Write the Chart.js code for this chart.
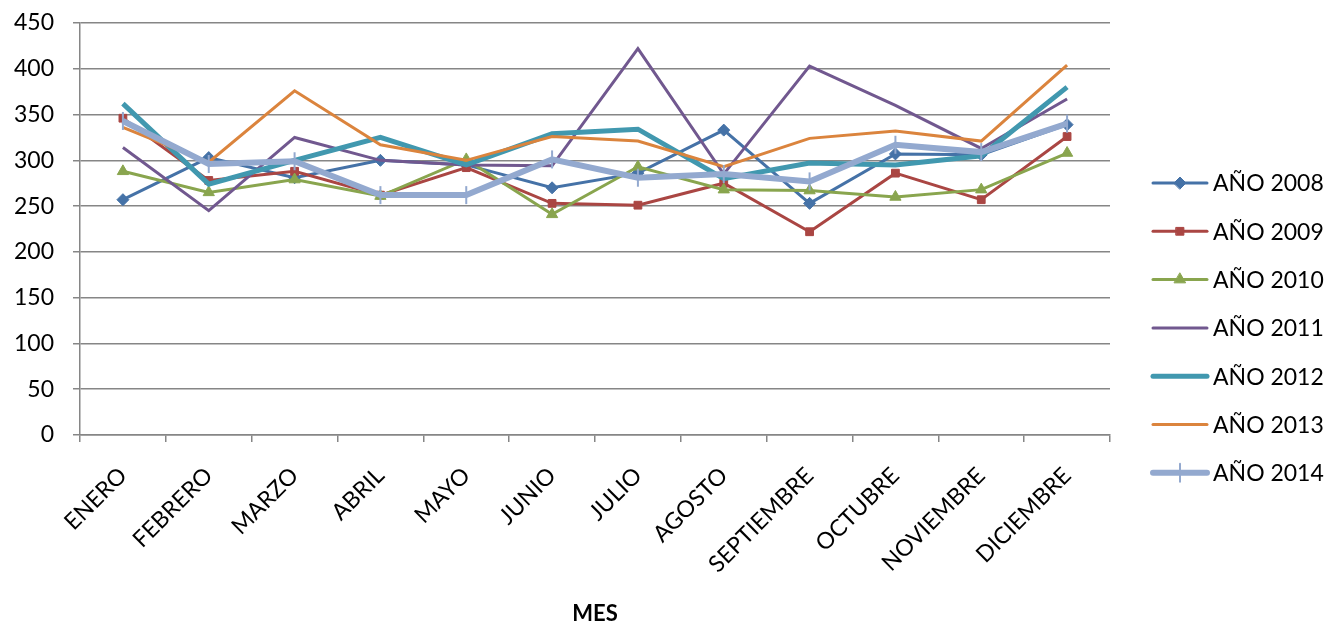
<!DOCTYPE html>
<html>
<head>
<meta charset="utf-8">
<script src="https://cdn.jsdelivr.net/npm/chart.js@4"></script>
<style>
  html, body { margin: 0; padding: 0; background: #fff; }
  #wrap { width: 1326px; height: 628px; }
</style>
</head>
<body>
<div id="wrap"><canvas id="mesChart"></canvas></div>
<script>
const meses = ['ENERO', 'FEBRERO', 'MARZO', 'ABRIL', 'MAYO', 'JUNIO', 'JULIO',
               'AGOSTO', 'SEPTIEMBRE', 'OCTUBRE', 'NOVIEMBRE', 'DICIEMBRE'];

const anio2008 = [257, 303, 281, 300, 295, 270, 286, 333, 253, 307, 306, 339];
const anio2009 = [346, 278, 288, 262, 292, 253, 251, 275, 222, 286, 257, 326];
const anio2010 = [288, 265, 279, 261, 301, 241, 293, 268, 267, 260, 268, 308];
const anio2011 = [314, 245, 325, 300, 295, 294, 422, 285, 403, 360, 313, 367];
const anio2012 = [362, 274, 300, 325, 295, 329, 334, 280, 297, 295, 305, 380];
const anio2013 = [336, 298, 376, 317, 300, 326, 321, 293, 324, 332, 321, 404];
const anio2014 = [343, 296, 299, 262, 262, 301, 281, 285, 277, 317, 309, 340];

const yTicks = [0, 50, 100, 150, 200, 250, 300, 350, 400, 450];

const FONT = 'Lato';

function serie(label, data, color, width, style, radius, order) {
    return {
        label: label,
        data: data,
        borderColor: color,
        backgroundColor: color,
        borderWidth: width,
        pointStyle: style || false,
        pointRadius: style ? radius : 0,
        pointHoverRadius: style ? radius : 0,
        pointBorderWidth: style === 'line' ? 2 : 1,
        pointRotation: style === 'line' ? 90 : 0,
        tension: 0,
        order: order
    };
}

// legend drawn by hand so the sample shows line + marker like the original
const legendaLateral = {
    id: 'legendaLateral',
    afterDraw(chart) {
        const ctx = chart.ctx;
        const x0 = 1153, x1 = 1207, y0 = 183, paso = 48.3;
        chart.data.datasets.forEach((ds, i) => {
            const y = y0 + i * paso;
            ctx.save();
            ctx.strokeStyle = ds.borderColor;
            ctx.fillStyle = ds.borderColor;
            ctx.lineWidth = ds.borderWidth;
            ctx.lineCap = 'round';
            ctx.beginPath();
            ctx.moveTo(x0, y);
            ctx.lineTo(x1, y);
            ctx.stroke();
            if (ds.pointStyle) {
                ctx.lineWidth = ds.pointBorderWidth;
                Chart.helpers.drawPoint(ctx, {
                    pointStyle: ds.pointStyle,
                    radius: ds.pointRadius,
                    rotation: ds.pointRotation,
                    borderWidth: ds.pointBorderWidth
                }, (x0 + x1) / 2, y);
            }
            ctx.fillStyle = '#000';
            ctx.font = '23px ' + FONT;
            ctx.textBaseline = 'middle';
            ctx.textAlign = 'left';
            ctx.fillText(ds.label, x1 + 6, y + 1);
            ctx.restore();
        });
    }
};

document.addEventListener('DOMContentLoaded', () => {
    const ctx = document.getElementById('mesChart').getContext('2d');
    new Chart(ctx, {
        type: 'line',
        data: {
            labels: meses,
            datasets: [
                serie('AÑO 2008', anio2008, '#4572A7', 3, 'rectRot', 6, 6),
                serie('AÑO 2009', anio2009, '#AA4643', 3, 'rect', 5.5, 5),
                serie('AÑO 2010', anio2010, '#89A54E', 3, 'triangle', 6.5, 4),
                serie('AÑO 2011', anio2011, '#71588F', 3, null, 0, 3),
                serie('AÑO 2012', anio2012, '#4198AF', 5, null, 0, 2),
                serie('AÑO 2013', anio2013, '#DB843D', 3, null, 0, 1),
                serie('AÑO 2014', anio2014, '#93A9CF', 6, 'line', 9, 0)
            ]
        },
        options: {
            responsive: true,
            maintainAspectRatio: false,
            animation: false,
            layout: { padding: { left: 0, right: 216, top: 23, bottom: 1 } },
            plugins: {
                legend: { display: false },
                tooltip: { enabled: false }
            },
            scales: {
                x: {
                    offset: true,
                    afterFit: (scale) => {
                        scale.height = 192;
                        scale.paddingLeft = 0;
                        scale.paddingRight = 0;
                    },
                    grid: {
                        offset: true,
                        drawOnChartArea: false,
                        drawTicks: true,
                        tickLength: 7,
                        color: '#868686',
                        lineWidth: 1.5
                    },
                    border: { color: '#868686', width: 1.5 },
                    ticks: {
                        color: '#000',
                        font: { family: FONT, size: 23 },
                        minRotation: 45,
                        maxRotation: 45,
                        padding: 20,
                        autoSkip: false
                    },
                    title: {
                        display: true,
                        text: 'MES',
                        color: '#000',
                        font: { family: FONT, size: 22, weight: 'bold' },
                        padding: { top: 2, bottom: 0 }
                    }
                },
                y: {
                    min: 0,
                    max: 450,
                    afterBuildTicks: (axis) => { axis.ticks = yTicks.map(v => ({ value: v })); },
                    afterFit: (scale) => {
                        scale.width = 80;
                        scale.paddingTop = 0;
                        scale.paddingBottom = 0;
                    },
                    grid: {
                        color: '#868686',
                        lineWidth: 1.5,
                        tickLength: 7
                    },
                    border: { color: '#868686', width: 1.5 },
                    ticks: {
                        color: '#000',
                        font: { family: FONT, size: 23 },
                        padding: 19
                    }
                }
            }
        },
        plugins: [legendaLateral]
    });
});
</script>
</body>
</html>
